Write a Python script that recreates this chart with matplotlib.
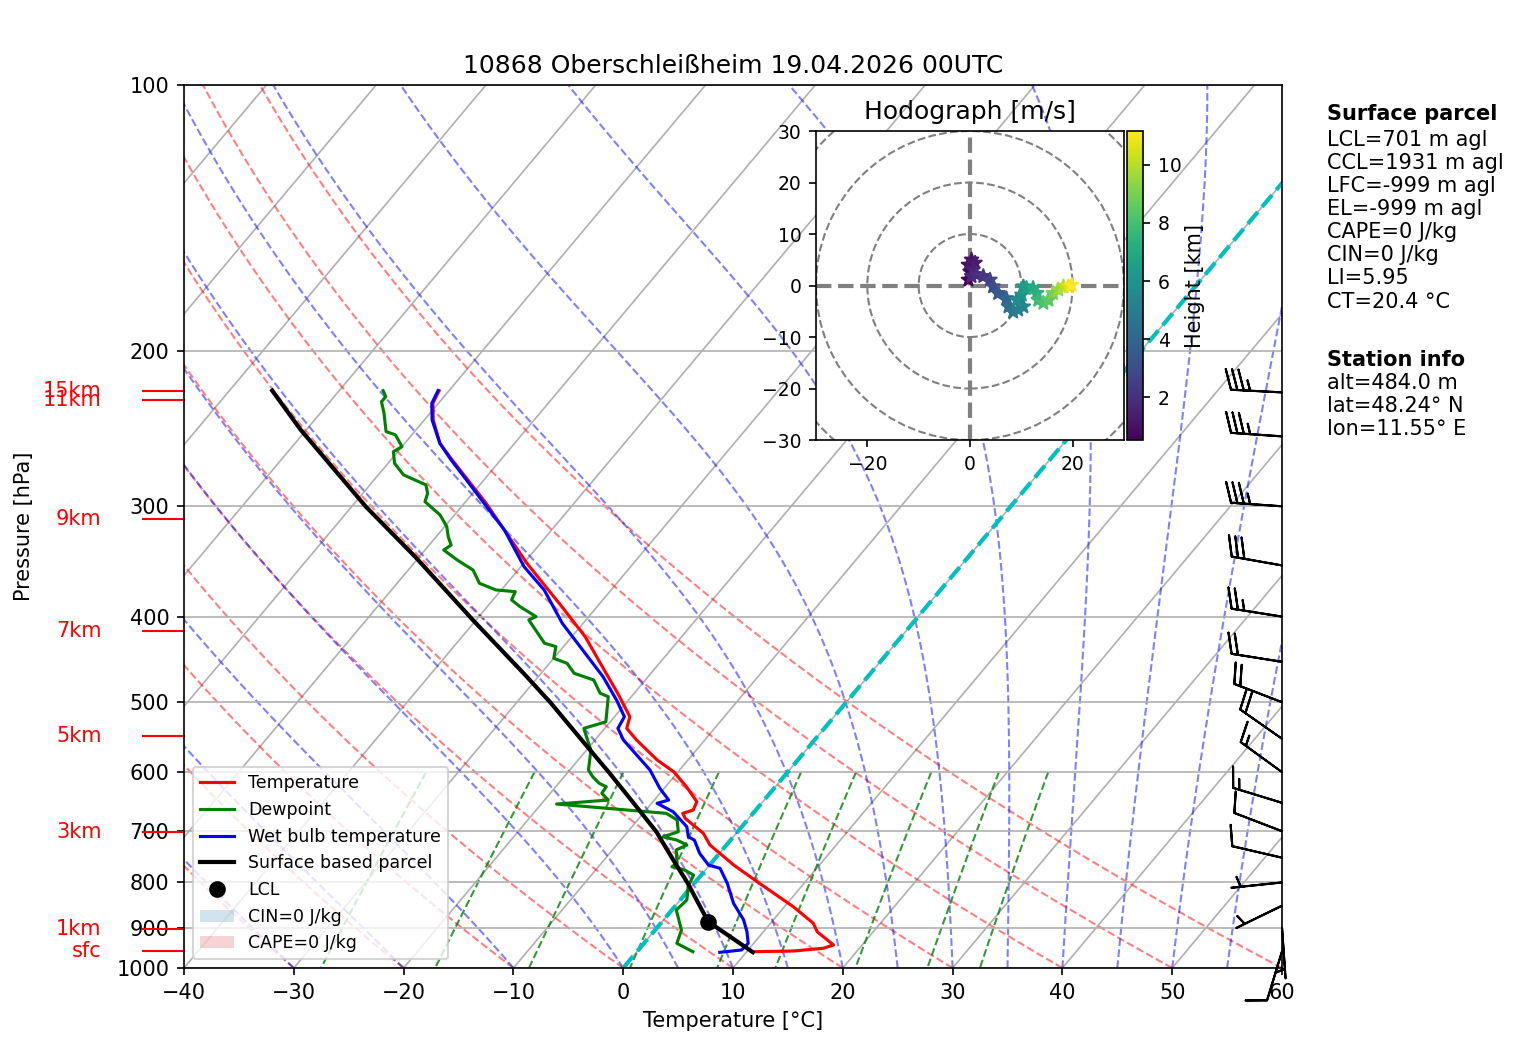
import numpy as np
import matplotlib
matplotlib.use('Agg')
import matplotlib.pyplot as plt
import matplotlib.transforms as mtransforms
from matplotlib.collections import LineCollection
from matplotlib.colors import Normalize
from matplotlib.patches import Circle, Patch
from matplotlib.ticker import FixedLocator, NullLocator, ScalarFormatter

# ---- sounding values (p in hPa, t in degC) ----
temp_p = [958.4, 956.7, 949.9, 941.8, 909.8, 889.9, 852.2, 798.4, 764.5, 725.6, 703.8,
          676.8, 668.1, 662.4, 648.2, 623.3, 599.4, 581.4, 551.9, 535.3, 519.3, 488.5,
          459.8, 421.4, 389.8, 348.1, 297.7, 265.9, 254.6, 239.5, 229.3, 221.9]
temp_t = [10.6, 14.2, 16.7, 17.4, 14.9, 13.9, 10.8, 5.6, 2.2, -1.5, -3.0,
          -5.8, -6.4, -5.7, -6.0, -8.1, -10.4, -12.8, -16.2, -18.0, -18.6, -21.5,
          -24.5, -28.8, -33.2, -39.7, -48.0, -54.4, -56.8, -59.2, -60.5, -60.9]

dew_p = [958.4, 937.7, 905.7, 859.6, 837.6, 809.0, 784.7, 774.5, 767.9, 761.1, 735.0,
         725.6, 716.3, 710.2, 700.9, 679.8, 668.1, 652.1, 645.3, 634.1, 623.3, 617.8,
         607.3, 596.7, 566.5, 544.8, 535.3, 526.2, 492.9, 488.5, 471.9, 463.7, 451.8,
         445.9, 432.5, 428.7, 403.5, 400.0, 389.8, 383.0, 374.8, 373.1, 366.7, 354.2,
         345.1, 336.2, 331.9, 324.8, 316.4, 306.9, 296.4, 290.0, 283.7, 276.4, 268.2,
         260.2, 256.8, 249.0, 246.9, 235.3, 228.4, 225.4, 221.9]
dew_t = [5.1, 3.0, 2.4, 0.4, 0.6, -0.3, -0.7, -1.9, -3.3, -3.1, -4.2,
         -3.6, -4.9, -6.4, -5.4, -6.4, -7.9, -18.6, -14.2, -15.3, -15.4, -16.3,
         -17.4, -18.3, -19.6, -21.2, -21.9, -20.4, -22.1, -23.1, -24.7, -27.0, -28.4,
         -30.0, -30.7, -32.0, -35.2, -34.8, -37.0, -38.3, -38.6, -40.5, -42.5, -44.1,
         -46.3, -48.3, -48.0, -48.9, -49.8, -51.3, -53.7, -54.1, -54.9, -57.7, -59.4,
         -60.4, -60.0, -61.5, -62.6, -64.2, -65.3, -65.3, -66.0]

wet_p = [960.0, 954.1, 937.7, 909.8, 882.3, 844.7, 801.7, 771.1, 764.5, 741.6, 716.3,
         710.2, 691.9, 665.3, 650.9, 645.3, 625.9, 596.7, 551.9, 535.3, 519.3, 497.1,
         467.9, 432.5, 407.0, 373.1, 351.2, 319.1, 300.3, 282.5, 265.9, 254.6, 239.5,
         229.3, 221.9]
wet_t = [7.6, 9.4, 9.5, 8.5, 7.3, 5.1, 3.0, 1.2, -0.1, -1.8, -3.3,
         -4.1, -5.0, -7.4, -9.5, -8.7, -10.4, -12.7, -17.4, -18.8, -19.1, -21.1,
         -24.1, -28.5, -31.9, -36.1, -39.7, -44.3, -47.7, -51.1, -54.5, -56.8, -59.3,
         -60.6, -61.0]

parcel_p = [959.6, 886.2, 850.0, 801.7, 750.0, 700.9, 650.0, 602.0, 551.9, 500.6,
            463.7, 403.5, 342.1, 300.3, 245.8, 221.9]
parcel_t = [10.6, 4.2, 2.2, -0.6, -4.0, -7.4, -11.7, -16.1, -21.2, -26.9,
            -31.6, -40.3, -50.4, -58.7, -70.5, -76.1]
lcl_p, lcl_t = 886.2, 4.2

# wind barbs (direction deg, speed kt)
barb_p = [222.9, 250, 300, 350, 400, 450, 500, 550, 600, 650, 700, 750, 800, 850, 900, 957.9]
barb_dir = [273, 274, 274, 280, 279, 279, 291, 305, 306, 287, 291, 283, 264, 244, 176, 197]
barb_kt = [35, 35, 35, 30, 25, 20, 20, 20, 15, 15, 10, 10, 5, 5, 5, 10]

# height marks on the left axis
height_labels = ['sfc', '1km', '3km', '5km', '7km', '9km', '11km', '15km']
height_p = [957.6, 903.0, 702.2, 546.7, 415.0, 310.0, 227.1, 222.3]

# hodograph (m/s) and height (km)
hodo_u = [-0.3, 0.0, -0.3, 0.3, 1.0, 0.6, 0.3, 1.3, 2.6, 3.9, 4.5, 5.5, 7.1, 7.5, 8.4, 9.4,
          10.4, 9.1, 10.1, 10.4, 11.0, 12.3, 13.0, 13.3, 14.3, 15.3, 16.2, 17.2, 18.2, 19.2, 19.8]
hodo_v = [1.1, 2.7, 4.0, 5.0, 4.4, 3.1, 1.8, 2.1, 1.8, 1.1, -0.2, -1.5, -2.5, -4.1, -5.1, -4.7,
          -4.1, -2.8, -1.8, -0.2, -0.5, -0.5, -1.5, -2.8, -3.4, -2.8, -1.5, -0.8, -0.2, -0.2, 0.1]
hodo_h = [0.52, 0.7, 0.9, 1.1, 1.3, 1.5, 1.7, 1.9, 2.2, 2.6, 3.0, 3.4, 3.9, 4.3, 4.7, 5.0,
          5.3, 5.6, 5.9, 6.2, 6.5, 6.9, 7.3, 7.7, 8.1, 8.5, 9.0, 9.5, 10.0, 10.6, 11.17]

title = '10868 Oberschleißheim 19.04.2026 00UTC'
parcel_lines = ['LCL=701 m agl', 'CCL=1931 m agl', 'LFC=-999 m agl', 'EL=-999 m agl',
                'CAPE=0 J/kg', 'CIN=0 J/kg', 'LI=5.95', 'CT=20.4 °C']
station_lines = ['alt=484.0 m', 'lat=48.24° N', 'lon=11.55° E']

SKEW = 67.5  # degC shift per pressure decade


def sx(t, p):
    return np.asarray(t, dtype=float) + SKEW * np.log10(1000.0 / np.asarray(p, dtype=float))


def moist_lapse(t0, pres):
    Rd, Cp, Lv, eps = 287.04749, 1004.66, 2.50084e6, 0.621957

    def dtdp(p, T):
        es = 6.112 * np.exp(17.67 * (T - 273.15) / (T - 29.65))
        rs = eps * es / (p - es)
        return (Rd * T + Lv * rs) / (Cp + Lv * Lv * rs * eps / (Rd * T * T)) / p

    T = np.asarray(t0, dtype=float) + 273.15
    out = [T.copy()]
    for i in range(1, len(pres)):
        p0, h = pres[i - 1], pres[i] - pres[i - 1]
        k1 = dtdp(p0, T)
        k2 = dtdp(p0 + h / 2, T + h / 2 * k1)
        k3 = dtdp(p0 + h / 2, T + h / 2 * k2)
        k4 = dtdp(p0 + h, T + h * k3)
        T = T + h / 6 * (k1 + 2 * k2 + 2 * k3 + k4)
        out.append(T.copy())
    return np.array(out) - 273.15


fig = plt.figure(figsize=(1517 / 150, 1054 / 150), dpi=150)
ax = fig.add_axes([0.12129, 0.08159, 0.72380, 0.83776])
ax.set_yscale('log')
ax.set_ylim(1000, 100)
ax.set_xlim(-40, 60)
ax.yaxis.set_major_locator(FixedLocator(np.arange(100, 1001, 100)))
ax.yaxis.set_major_formatter(ScalarFormatter())
ax.yaxis.set_minor_locator(NullLocator())
ax.set_xticks(np.arange(-40, 61, 10))
ax.yaxis.grid(True, color='#b0b0b0', lw=0.8)

# background: isotherms, dry/moist adiabats, mixing ratio lines
for t in np.arange(-160, 61, 10):
    ax.plot(sx([t, t], [1000, 100]), [1000, 100], color='#b0b0b0', lw=0.8, zorder=1)

pp = np.linspace(1000, 100, 181)
for th in np.arange(-40, 61, 10):
    tt = (th + 273.15) * (pp / 1000.0) ** 0.2857 - 273.15
    ax.plot(sx(tt, pp), pp, color='r', ls='--', lw=1, alpha=0.5, zorder=1)

t0s = np.concatenate((np.arange(-40, 0, 10), np.arange(0, 61, 5)))
mt = moist_lapse(t0s, pp)
for j in range(len(t0s)):
    ax.plot(sx(mt[:, j], pp), pp, color='b', ls='--', lw=1, alpha=0.5, zorder=1)

pm = np.linspace(600, 1000, 50)
for w in [0.0004, 0.001, 0.002, 0.004, 0.007, 0.01, 0.016, 0.024, 0.032]:
    e = w * pm / (0.621957 + w)
    le = np.log(e / 6.112)
    td = 243.5 * le / (17.67 - le)
    ax.plot(sx(td, pm), pm, color='g', ls='--', lw=1, alpha=0.8, zorder=1)

ax.plot(sx([0, 0], [1000, 100]), [1000, 100], color='c', ls='--', lw=2, zorder=2)

# profiles
l_t, = ax.plot(sx(temp_t, temp_p), temp_p, color='r', lw=1.5, label='Temperature', zorder=3)
l_d, = ax.plot(sx(dew_t, dew_p), dew_p, color='g', lw=1.5, label='Dewpoint', zorder=3)
l_w, = ax.plot(sx(wet_t, wet_p), wet_p, color='b', lw=1.5, label='Wet bulb temperature', zorder=3)
l_p, = ax.plot(sx(parcel_t, parcel_p), parcel_p, color='k', lw=2, label='Surface based parcel', zorder=3)
l_l, = ax.plot(sx([lcl_t], [lcl_p]), [lcl_p], 'ko', ms=7, label='LCL', zorder=4)

cin_patch = Patch(facecolor='tab:blue', alpha=0.2, label='CIN=0 J/kg')
cape_patch = Patch(facecolor='tab:red', alpha=0.2, label='CAPE=0 J/kg')
ax.legend(handles=[l_t, l_d, l_w, l_p, l_l, cin_patch, cape_patch], loc='lower left', fontsize='small')

# wind barbs at right edge
blend = mtransforms.blended_transform_factory(ax.transAxes, ax.transData)
d = np.radians(barb_dir)
bu = -np.array(barb_kt) * np.sin(d)
bv = -np.array(barb_kt) * np.cos(d)
ax.barbs(np.ones(len(barb_p)), barb_p, bu, bv, transform=blend, clip_on=False, zorder=4)

# height marks
for lab, p in zip(height_labels, height_p):
    ax.plot([-0.0375, 0], [p, p], color='r', lw=1, transform=blend, clip_on=False)
    ax.text(-0.075, p, lab, color='r', ha='right', va='center', transform=blend, fontsize=10)

ax.set_title(title, fontsize=12)
ax.set_xlabel('Temperature [°C]')
ax.set_ylabel('Pressure [hPa]')
ax.yaxis.set_label_coords(-0.137, 0.5)

# hodograph inset
hax = fig.add_axes([0.5379, 0.5825, 0.2030, 0.2932])
for r in (10, 20, 30, 40):
    hax.add_patch(Circle((0, 0), r, fill=False, ls='--', color='grey', lw=1))
hax.axhline(0, color='grey', ls='--', lw=2)
hax.axvline(0, color='grey', ls='--', lw=2)
pts = np.array([hodo_u, hodo_v]).T.reshape(-1, 1, 2)
segs = np.concatenate([pts[:-1], pts[1:]], axis=1)
norm = Normalize(min(hodo_h), max(hodo_h))
lc = LineCollection(segs, cmap='viridis', norm=norm, lw=4)
lc.set_array(np.array(hodo_h[:-1]))
hax.add_collection(lc)
sc = hax.scatter(hodo_u, hodo_v, c=hodo_h, cmap='viridis', norm=norm, marker='*', s=45, zorder=3)
hax.set_xlim(-30, 30)
hax.set_ylim(-30, 30)
hax.set_xticks([-20, 0, 20])
hax.set_yticks(np.arange(-30, 31, 10))
hax.tick_params(labelsize=9)
hax.set_title('Hodograph [m/s]', fontsize=12)
cax = fig.add_axes([0.74291, 0.5825, 0.01055, 0.2932])
cb = fig.colorbar(sc, cax=cax)
cb.ax.tick_params(labelsize=9)
cb.set_label('Height [km]', fontsize=10, labelpad=2)

# info text on the right
fig.text(0.8748, 0.8918, 'Surface parcel', fontweight='bold', va='center', fontsize=10)
for i, s in enumerate(parcel_lines):
    fig.text(0.8748, 0.8672 - i * 0.0219, s, va='center', fontsize=10)
fig.text(0.8748, 0.6584, 'Station info', fontweight='bold', va='center', fontsize=10)
for i, s in enumerate(station_lines):
    fig.text(0.8748, 0.6366 - i * 0.0219, s, va='center', fontsize=10)

fig.savefig('out.png', dpi=150)
